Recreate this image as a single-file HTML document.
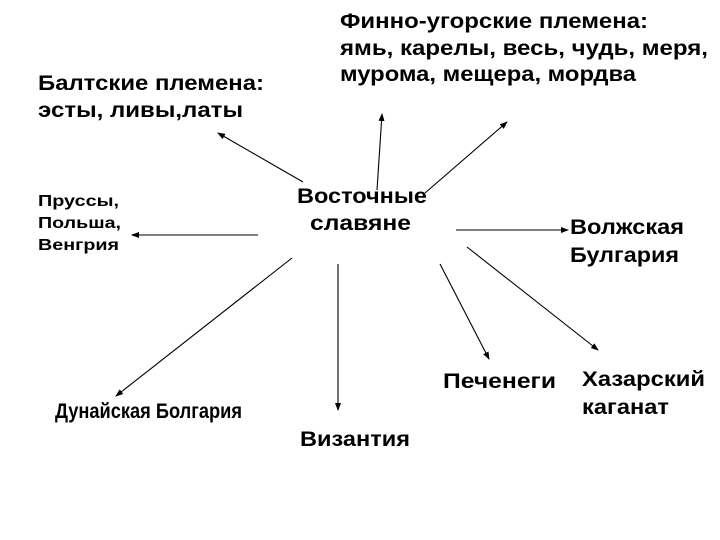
<!DOCTYPE html>
<html><head><meta charset="utf-8"><style>html,body{margin:0;padding:0;background:#fff}svg{display:block}</style></head>
<body>
<svg width="720" height="540" viewBox="0 0 720 540" xmlns="http://www.w3.org/2000/svg">
<defs><marker id="a" markerWidth="8" markerHeight="6" refX="7" refY="3" orient="auto" markerUnits="userSpaceOnUse"><path d="M0,0 L8,3 L0,6 z" fill="#000"/></marker></defs>
<g stroke="#000" stroke-width="1.1" marker-end="url(#a)">
<line x1="303" y1="182" x2="218" y2="133"/>
<line x1="377" y1="190" x2="382" y2="114"/>
<line x1="425" y1="193" x2="507" y2="122"/>
<line x1="258" y1="235" x2="132" y2="235" stroke="#555" stroke-width="1.5"/>
<line x1="456" y1="230" x2="568" y2="230"/>
<line x1="292" y1="258" x2="116" y2="396"/>
<line x1="338" y1="264" x2="338" y2="410"/>
<line x1="440" y1="264" x2="489" y2="359"/>
<line x1="467" y1="247" x2="598" y2="350"/>
</g>
<g font-family="Liberation Sans, sans-serif" font-weight="bold" font-size="21" fill="#000">
<text x="340" y="28" textLength="308" lengthAdjust="spacingAndGlyphs">Финно-угорские племена:</text>
<text x="340" y="55" textLength="368" lengthAdjust="spacingAndGlyphs">ямь, карелы, весь, чудь, меря,</text>
<text x="340" y="81" textLength="296" lengthAdjust="spacingAndGlyphs">мурома, мещера, мордва</text>
<text x="38" y="90" textLength="226" lengthAdjust="spacingAndGlyphs">Балтские племена:</text>
<text x="38" y="117" textLength="205" lengthAdjust="spacingAndGlyphs">эсты, ливы,латы</text>
<text x="297" y="203" textLength="130" lengthAdjust="spacingAndGlyphs">Восточные</text>
<text x="310" y="230" textLength="101" lengthAdjust="spacingAndGlyphs">славяне</text>
<text x="570" y="234" textLength="114" lengthAdjust="spacingAndGlyphs">Волжская</text>
<text x="570" y="262" textLength="109" lengthAdjust="spacingAndGlyphs">Булгария</text>
<text x="443" y="388" textLength="113" lengthAdjust="spacingAndGlyphs">Печенеги</text>
<text x="582" y="386" textLength="123" lengthAdjust="spacingAndGlyphs">Хазарский</text>
<text x="582" y="414" textLength="87" lengthAdjust="spacingAndGlyphs">каганат</text>
<text x="55" y="418" textLength="187" lengthAdjust="spacingAndGlyphs">Дунайская Болгария</text>
<text x="300" y="446" textLength="110" lengthAdjust="spacingAndGlyphs">Византия</text>
<g font-size="16">
<text x="38" y="206" textLength="81" lengthAdjust="spacingAndGlyphs">Пруссы,</text>
<text x="38" y="228" textLength="83" lengthAdjust="spacingAndGlyphs">Польша,</text>
<text x="38" y="250" textLength="81" lengthAdjust="spacingAndGlyphs">Венгрия</text>
</g>
</g>
</svg>
</body></html>
